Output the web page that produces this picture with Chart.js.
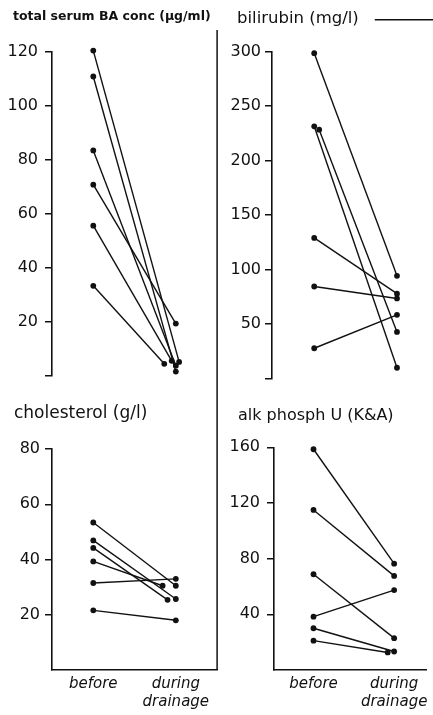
<!DOCTYPE html>
<html>
<head>
<meta charset="utf-8">
<title>Serum values before and during drainage</title>
<script src="https://cdn.jsdelivr.net/npm/chart.js@4.4.1/dist/chart.umd.min.js"></script>
<style>
  html, body { margin: 0; padding: 0; background: #fff; }
  #page { position: relative; width: 433px; height: 715px; overflow: hidden; background: #fff; }
  #page canvas { position: absolute; }
</style>
</head>
<body>
<div id="page">
  <canvas id="chart-ba"   width="220" height="392" style="left:0;top:0"></canvas>
  <canvas id="chart-bili" width="213" height="392" style="left:220px;top:0"></canvas>
  <canvas id="chart-chol" width="220" height="323" style="left:0;top:392px"></canvas>
  <canvas id="chart-alk"  width="213" height="323" style="left:220px;top:392px"></canvas>
</div>
<script>
/* Four paired before / during-drainage panels */

const INK = '#111';
const FAMILY = '"DejaVu Sans", sans-serif';

const PHASES = ['before', ['during', 'drainage']];

// total serum BA conc (ug/ml)
const BA_TICKS    = [0, 20, 40, 60, 80, 100, 120];
const BA_BEFORE   = [120.4, 110.8, 83.4, 70.7, 55.5, 33.2];
const BA_DURING   = [5.0, 1.4, 3.6, 19.2, 5.4, 4.3];
const BA_DURING_X = [1.04, 1.0, 1.0, 1.0, 0.95, 0.86];

// bilirubin (mg/l)
const BILI_TICKS    = [0, 50, 100, 150, 200, 250, 300];
const BILI_BEFORE   = [298.6, 231.5, 228.4, 129.0, 84.4, 27.7];
const BILI_BEFORE_X = [0, 0, 0.06, 0, 0, 0];
const BILI_DURING   = [94.2, 9.8, 42.7, 77.8, 73.4, 58.4];

// cholesterol (g/l)
const CHOL_TICKS    = [20, 40, 60, 80];
const CHOL_BEFORE   = [53.4, 46.9, 44.2, 39.3, 31.5, 21.6];
const CHOL_DURING   = [30.5, 25.7, 25.4, 30.5, 33.0, 18.0];
const CHOL_DURING_X = [1.0, 1.0, 0.9, 0.84, 1.0, 1.0];

// alk phosph U (K&A)
const ALK_TICKS    = [40, 80, 120, 160];
const ALK_BEFORE   = [158.6, 115.0, 68.8, 38.3, 30.0, 21.1];
const ALK_DURING   = [76.4, 67.6, 22.9, 57.4, 13.3, 12.6];
const ALK_DURING_X = [1.0, 1.0, 1.0, 1.0, 1.0, 0.92];

function fontStr(f) {
  return (f.style || 'normal') + ' ' + (f.weight || 'normal') + ' ' + f.size + 'px ' + f.family;
}

// nudge the title right so the axis box can start at the canvas edge
const titleIndentPlugin = {
  id: 'titleIndent',
  afterLayout(chart, args, opts) {
    if (chart.titleBlock && opts.indent) {
      chart.titleBlock.left += opts.indent;
      chart.titleBlock.right += opts.indent;
    }
  },
};

// vertical rule between the left and right columns
const dividerPlugin = {
  id: 'divider',
  afterDraw(chart, args, opts) {
    if (!opts.show) return;
    const { ctx, chartArea } = chart;
    ctx.save();
    ctx.strokeStyle = INK;
    ctx.lineWidth = 1.5;
    ctx.beginPath();
    ctx.moveTo(chartArea.right, opts.from);
    ctx.lineTo(chartArea.right, opts.toArea ? chartArea.bottom : chart.height);
    ctx.stroke();
    ctx.restore();
  },
};

// short line sample after the bilirubin title
const titleRulePlugin = {
  id: 'titleRule',
  afterDraw(chart, args, opts) {
    if (!opts.show) return;
    const { ctx } = chart;
    const t = chart.options.plugins.title;
    ctx.save();
    ctx.font = fontStr(t.font);
    const w = ctx.measureText(t.text).width;
    const y = chart.titleBlock.top + t.padding.top + t.font.size * 0.65;
    ctx.strokeStyle = INK;
    ctx.lineWidth = 1.5;
    ctx.beginPath();
    ctx.moveTo(chart.titleBlock.left + w + 16, y);
    ctx.lineTo(chart.width, y);
    ctx.stroke();
    ctx.restore();
  },
};

function makePanel(id, cfg) {
  const datasets = cfg.before.map((b, i) => ({
    data: [
      { x: cfg.beforeX ? cfg.beforeX[i] : 0, y: b },
      { x: cfg.duringX ? cfg.duringX[i] : 1, y: cfg.during[i] },
    ],
    showLine: true,
    clip: false,
    borderColor: INK,
    backgroundColor: INK,
    borderWidth: 1.4,
    pointRadius: 2.9,
    pointHoverRadius: 2.9,
    pointBorderWidth: 0,
  }));

  new Chart(document.getElementById(id), {
    type: 'scatter',
    data: { datasets },
    plugins: [titleIndentPlugin, dividerPlugin, titleRulePlugin],
    options: {
      responsive: false,
      animation: false,
      events: [],
      layout: { padding: { left: 0, right: cfg.padRight, top: 0, bottom: cfg.padBottom } },
      plugins: {
        legend: { display: false },
        tooltip: { enabled: false },
        title: {
          display: true,
          text: cfg.title,
          align: 'start',
          color: INK,
          font: cfg.titleFont,
          padding: cfg.titlePad,
        },
        titleIndent: { indent: cfg.titleIndent },
        divider: cfg.divider || { show: false },
        titleRule: { show: !!cfg.titleRule },
      },
      scales: {
        x: {
          type: 'linear',
          min: cfg.xMin,
          max: cfg.xMax,
          display: cfg.showX,
          afterBuildTicks: s => { s.ticks = PHASES.map((p, i) => ({ value: i })); },
          afterFit: s => { if (cfg.showX) s.height = cfg.xAxisHeight; },
          grid: { display: false, drawTicks: false },
          border: { display: true, color: INK, width: 1.6 },
          ticks: {
            color: INK,
            font: { family: FAMILY, size: 15, style: 'italic' },
            padding: 5,
            maxRotation: 0,
            autoSkip: false,
            callback: v => PHASES[v],
          },
        },
        y: {
          min: 0,
          max: cfg.ticks[cfg.ticks.length - 1],
          afterBuildTicks: s => { s.ticks = cfg.ticks.map(v => ({ value: v })); },
          afterFit: s => { s.width = cfg.yAxisWidth; },
          grid: { drawOnChartArea: false, drawTicks: true, tickLength: 7, color: INK, lineWidth: 1.5 },
          border: { display: true, color: INK, width: 1.6 },
          ticks: {
            color: INK,
            font: { family: FAMILY, size: 16 },
            padding: cfg.tickPad,
            callback: v => (v === 0 ? '' : v),
          },
        },
      },
    },
  });
}

function init() {
  makePanel('chart-ba', {
    title: 'total serum BA conc (μg/ml)',
    titleFont: { family: FAMILY, size: 12.5, weight: 'bold' },
    titlePad: { top: 9.5, bottom: 27.2 },
    titleIndent: 13,
    ticks: BA_TICKS, before: BA_BEFORE, during: BA_DURING, duringX: BA_DURING_X,
    padRight: 2, padBottom: 5, yAxisWidth: 52, tickPad: 7,
    xMin: -0.5, xMax: 1.5, showX: false,
    divider: { show: true, from: 30 },
  });

  makePanel('chart-bili', {
    title: 'bilirubin (mg/l)',
    titleFont: { family: FAMILY, size: 16.5, weight: 'normal' },
    titlePad: { top: 9, bottom: 22.9 },
    titleIndent: 17,
    titleRule: true,
    ticks: BILI_TICKS, before: BILI_BEFORE, beforeX: BILI_BEFORE_X, during: BILI_DURING,
    padRight: 0, padBottom: 5, yAxisWidth: 52, tickPad: 4,
    xMin: -0.51, xMax: 1.4, showX: false,
  });

  makePanel('chart-chol', {
    title: 'cholesterol (g/l)',
    titleFont: { family: FAMILY, size: 17, weight: 'normal' },
    titlePad: { top: 11.8, bottom: 24.8 },
    titleIndent: 14,
    ticks: CHOL_TICKS, before: CHOL_BEFORE, during: CHOL_DURING, duringX: CHOL_DURING_X,
    padRight: 2, padBottom: 0, yAxisWidth: 52, tickPad: 5,
    xMin: -0.5, xMax: 1.5, showX: true, xAxisHeight: 45,
    divider: { show: true, from: 0, toArea: true },
  });

  makePanel('chart-alk', {
    title: 'alk phosph U (K&A)',
    titleFont: { family: FAMILY, size: 16, weight: 'normal' },
    titlePad: { top: 13.9, bottom: 22.2 },
    titleIndent: 18,
    ticks: ALK_TICKS, before: ALK_BEFORE, during: ALK_DURING, duringX: ALK_DURING_X,
    padRight: 0, padBottom: 0, yAxisWidth: 54, tickPad: 7,
    xMin: -0.49, xMax: 1.4, showX: true, xAxisHeight: 45,
  });
}

document.addEventListener('DOMContentLoaded', init);
</script>
</body>
</html>
